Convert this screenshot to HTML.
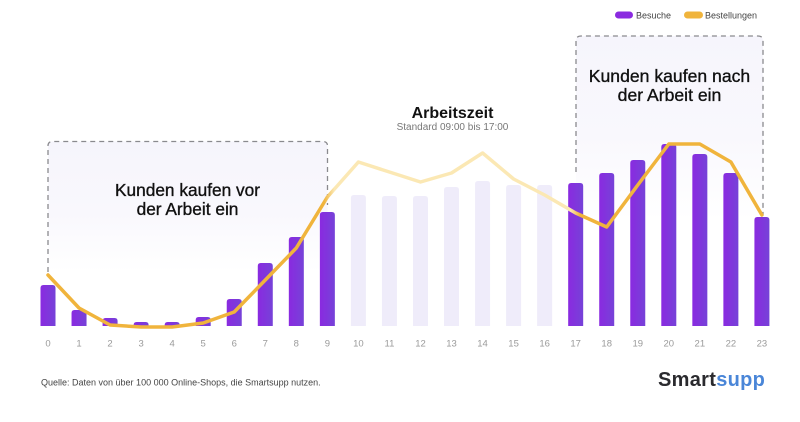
<!DOCTYPE html>
<html><head><meta charset="utf-8"><style>
html,body{margin:0;padding:0;background:#fff;}
svg{display:block;font-family:"Liberation Sans",sans-serif;}
</style></head><body>
<svg width="800" height="422" viewBox="0 0 800 422" xmlns="http://www.w3.org/2000/svg">
<defs>
<linearGradient id="boxfill" x1="0" y1="0" x2="0" y2="1">
<stop offset="0" stop-color="#f6f5fc"/><stop offset="0.55" stop-color="#f9f8fd"/><stop offset="1" stop-color="#ffffff"/>
</linearGradient>
<linearGradient id="barg" x1="0" y1="0" x2="1" y2="0">
<stop offset="0" stop-color="#8a2ae0"/><stop offset="1" stop-color="#7642d8"/>
</linearGradient>
<linearGradient id="lineg" gradientUnits="userSpaceOnUse" x1="0" y1="0" x2="800" y2="0">
<stop offset="0.405" stop-color="#f0b43c"/>
<stop offset="0.418" stop-color="#fbe8b4"/>
<stop offset="0.713" stop-color="#fbe8b4"/>
<stop offset="0.725" stop-color="#f0b43c"/>
</linearGradient>
</defs>
<rect width="800" height="422" fill="#fff"/>
<!-- boxes -->
<path d="M48,272 V146 Q48,141.5 52.5,141.5 H323 Q327.5,141.5 327.5,146 V272 Z" fill="url(#boxfill)"/>
<path d="M48,272 V146 Q48,141.5 52.5,141.5 H323 Q327.5,141.5 327.5,146 V205" fill="none" stroke="#8a8a8e" stroke-width="1.3" stroke-dasharray="5,4"/>
<path d="M576,220 V41 Q576,36 581,36 H758 Q763,36 763,41 V220 Z" fill="url(#boxfill)"/>
<path d="M576,172 V41 Q576,36 581,36 H758 Q763,36 763,41 V215" fill="none" stroke="#8a8a8e" stroke-width="1.3" stroke-dasharray="5,4"/>
<!-- legend -->
<rect x="615" y="11.5" width="18" height="7" rx="3.5" fill="#8a2ae0"/>
<text x="636" y="18.5" font-size="9" fill="#444">Besuche</text>
<rect x="684" y="11.5" width="19" height="7" rx="3.5" fill="#f0b43c"/>
<text x="705" y="18.5" font-size="9" fill="#444">Bestellungen</text>
<!-- bars -->
<g id="bars"></g>
<!-- line -->
<polyline id="ln" fill="none" stroke="url(#lineg)" stroke-width="3.5" stroke-linejoin="round" stroke-linecap="round" points=""/>
<!-- ticks -->
<g id="ticks" font-size="9.5" fill="#9a9a9a" text-anchor="middle"></g>
<!-- annotations -->
<g fill="#111" stroke="#111" stroke-width="0.35" text-anchor="middle">
<text x="187.5" y="196" font-size="17.3">Kunden kaufen vor</text>
<text x="187.5" y="215" font-size="17.3">der Arbeit ein</text>
<text x="669.5" y="82" font-size="17.6">Kunden kaufen nach</text>
<text x="669.5" y="101" font-size="17.6">der Arbeit ein</text>
</g>
<text x="452.5" y="118" font-size="16" font-weight="bold" fill="#111" text-anchor="middle">Arbeitszeit</text>
<text x="452.5" y="130" font-size="10" fill="#777" text-anchor="middle">Standard 09:00 bis 17:00</text>
<!-- footer -->
<text x="41" y="385.5" font-size="9" fill="#444">Quelle: Daten von über 100 000 Online-Shops, die Smartsupp nutzen.</text>
<text x="658" y="386" font-size="20" font-weight="bold" letter-spacing="0.3"><tspan fill="#2a2a2e">Smart</tspan><tspan fill="#4a86d8">supp</tspan></text>
<script>
(function(){
var tops=[285,310,318,322,322,317,299,263,237,212,195,196,196,187,181,185,185,183,173,160,144,154,173,217];
var ly=[275,308,325,327,327,323,312,280,248,197,162,172,182,173,153,179,195,213,227,185,144,144,162,215];
var ns="http://www.w3.org/2000/svg";
var g=document.getElementById("bars"),t=document.getElementById("ticks");
var pts=[];
for(var i=0;i<24;i++){
 var c=48+i*31.04;
 var r=document.createElementNS(ns,"path");
 var x=c-7.5,w=15,y=tops[i],b=326,rr=3;
 r.setAttribute("d","M"+x+","+b+" V"+(y+rr)+" Q"+x+","+y+" "+(x+rr)+","+y+" H"+(x+w-rr)+" Q"+(x+w)+","+y+" "+(x+w)+","+(y+rr)+" V"+b+" Z");
 r.setAttribute("fill",(i>=10&&i<=16)?"#efecfa":"url(#barg)");
 g.appendChild(r);
 var tx=document.createElementNS(ns,"text");
 tx.setAttribute("x",c);tx.setAttribute("y",346.5);tx.textContent=i;
 t.appendChild(tx);
 pts.push(c.toFixed(1)+","+ly[i]);
}
document.getElementById("ln").setAttribute("points",pts.join(" "));
})();
</script>
</svg>
</body></html>
